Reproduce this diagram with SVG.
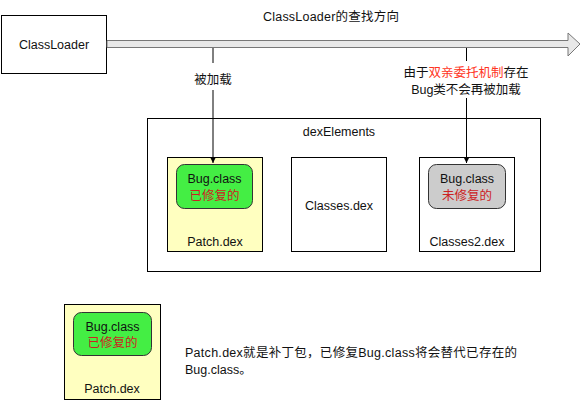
<svg xmlns="http://www.w3.org/2000/svg" width="581" height="401" viewBox="0 0 581 401">
<defs>
<style>
text{font-family:"Liberation Sans","Noto Sans CJK SC",sans-serif;font-size:12.5px;fill:#111;}
.c{text-anchor:middle;}
.box{fill:#fff;stroke:#000;stroke-width:1;}
.yel{fill:#ffffc0;stroke:#000;stroke-width:1;}
.grn{fill:#44ee44;stroke:#333;stroke-width:1;}
.gry{fill:#cccccc;stroke:#333;stroke-width:1;}
.red{fill:#cc2222;}
.red2{fill:#ff3322;}
.ln{stroke:#000;stroke-width:1;fill:none;}
</style>
<marker id="ah" markerWidth="8" markerHeight="8" refX="6" refY="4" orient="auto" markerUnits="userSpaceOnUse">
<path d="M0,1 L6,4 L0,7 Z" fill="#000"/>
</marker>
</defs>
<rect width="581" height="401" fill="#fff"/>

<g id="classloader">
<rect class="box" x="1.5" y="15.5" width="105" height="58"/>
<text class="c" x="54" y="49">ClassLoader</text>
</g>

<g id="direction-arrow">
<path d="M107,40.5 L568,40.5 L568,33 L580,44 L568,56 L568,47.5 L107,47.5 Z" fill="#e8e8e8" stroke="#777" stroke-width="1"/>
<text x="263" y="21" textLength="136" lengthAdjust="spacing">ClassLoader的查找方向</text>
</g>

<g id="dexElements">
<rect class="box" x="147.5" y="118.5" width="393" height="153"/>
<text class="c" x="339" y="136">dexElements</text>
</g>

<g id="patch-dex">
<rect class="yel" x="167.5" y="157.5" width="95" height="94"/>
<text class="c" x="215" y="246">Patch.dex</text>
</g>
<g id="bug-fixed">
<rect class="grn" x="176.5" y="164.5" width="76" height="44" rx="8"/>
<text class="c" x="214.5" y="183">Bug.class</text>
<text class="c red" x="214.5" y="200">已修复的</text>
</g>

<g id="classes-dex">
<rect class="box" x="291.5" y="157.5" width="95" height="94"/>
<text class="c" x="339" y="210">Classes.dex</text>
</g>

<g id="classes2-dex">
<rect class="box" x="419.5" y="157.5" width="95" height="94"/>
<text class="c" x="467" y="246">Classes2.dex</text>
</g>
<g id="bug-unfixed">
<rect class="gry" x="428.5" y="164.5" width="77" height="44" rx="8"/>
<text class="c" x="467" y="183">Bug.class</text>
<text class="c red" x="467" y="200">未修复的</text>
</g>

<g id="connectors">
<line class="ln" x1="213" y1="48" x2="213" y2="63"/>
<line class="ln" x1="213" y1="90" x2="213" y2="163" marker-end="url(#ah)"/>
<text class="c" x="213" y="84">被加载</text>
<line class="ln" x1="466.5" y1="48" x2="466.5" y2="61"/>
<line class="ln" x1="466.5" y1="98" x2="466.5" y2="163" marker-end="url(#ah)"/>
<text class="c" x="466" y="77">由于<tspan class="red2">双亲委托机制</tspan>存在</text>
<text class="c" x="466" y="94">Bug类不会再被加载</text>
</g>

<g id="legend-patch-dex">
<rect class="yel" x="64.5" y="304.5" width="96" height="95"/>
<text class="c" x="112" y="393">Patch.dex</text>
</g>
<g id="legend-bug-fixed">
<rect class="grn" x="73.5" y="312.5" width="78" height="43" rx="8"/>
<text class="c" x="112.5" y="331">Bug.class</text>
<text class="c red" x="112.5" y="347">已修复的</text>
</g>

<g id="note">
<text x="185" y="357" textLength="332" lengthAdjust="spacing">Patch.dex就是补丁包，已修复Bug.class将会替代已存在的</text>
<text x="185" y="374">Bug.class。</text>
</g>
</svg>
